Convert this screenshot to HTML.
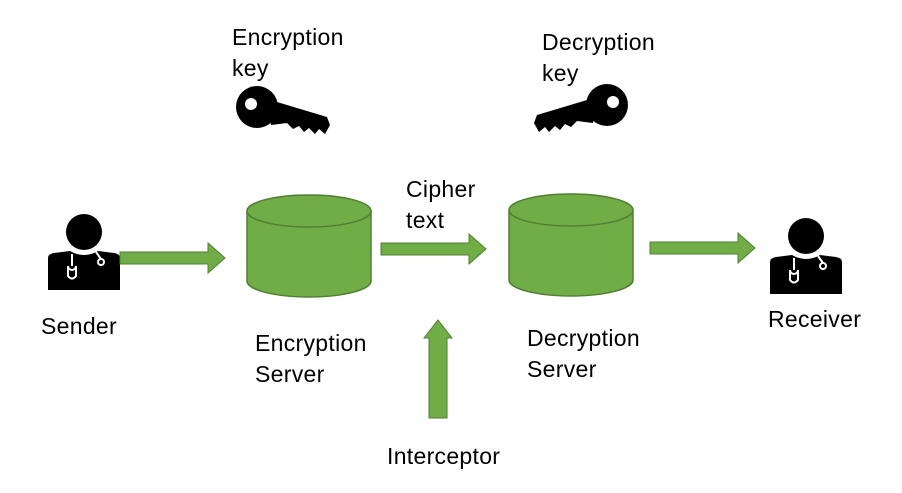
<html><body style="margin:0;width:902px;height:493px;background:#fff;overflow:hidden">
<svg width="902" height="493" xmlns="http://www.w3.org/2000/svg" font-family="Liberation Sans, sans-serif" font-size="23" letter-spacing="0.3" fill="#000">
<defs>
<g id="p"><circle cx="0" cy="0" r="18"/><path d="M-36,26 Q-36,22 -30,21 L-14,19 Q0,27 14,19 L30,21 Q36,22 36,26 L36,58 L-36,58Z"/>
<path d="M-12,22 L-12,34 M-16,34 a4,4 0 0 0 8,0 M-16,34 L-16,44 Q-12,49 -8,44 L-8,34" stroke="#fff" stroke-width="2" fill="none"/><circle cx="17" cy="30" r="3" fill="none" stroke="#fff" stroke-width="2"/><path d="M12,20 L17,27" stroke="#fff" stroke-width="2"/></g>
<g id="k"><circle cx="0" cy="0" r="21"/><path d="M10,-8 L70,10 L73,18 L68,27 L62,22 L58,27 L52,21 L47,25 L42,19 L36,22 L30,16 L14,18Z"/><circle cx="-6" cy="-3" r="6" fill="#fff"/></g>
<g id="c"><path d="M0,17 L0,87 A62,16 0 0 0 124,87 L124,17" fill="#70ad47" stroke="#507e32" stroke-width="1.5"/><ellipse cx="62" cy="17" rx="62" ry="16" fill="#70ad47" stroke="#507e32" stroke-width="1.5"/></g>
</defs>
<use href="#p" x="84" y="232"/><use href="#p" x="806" y="236"/>
<use href="#k" x="257" y="107"/><use href="#k" transform="translate(607,105) scale(-1,1)"/>
<use href="#c" x="247" y="194"/><use href="#c" x="509" y="193"/>
<g fill="#70ad47" stroke="#507e32" stroke-width="1">
<path d="M120,252 L208,252 L208,243 L225,258 L208,273 L208,264 L120,264Z"/>
<path d="M381,243 L469,243 L469,234 L486,249 L469,264 L469,255 L381,255Z"/>
<path d="M650,242 L738,242 L738,233 L755,248 L738,263 L738,254 L650,254Z"/>
<path d="M429,418 L429,338 L424,338 L438,320 L452,338 L447,338 L447,418Z"/>
</g>
<text x="232" y="45">Encryption</text><text x="232" y="76">key</text>
<text x="542" y="50">Decryption</text><text x="542" y="81">key</text>
<text x="406" y="197">Cipher</text><text x="406" y="228">text</text>
<text x="41" y="334">Sender</text><text x="768" y="327">Receiver</text>
<text x="255" y="351">Encryption</text><text x="255" y="382">Server</text>
<text x="527" y="346">Decryption</text><text x="527" y="377">Server</text>
<text x="387" y="464">Interceptor</text>
</svg></body></html>
